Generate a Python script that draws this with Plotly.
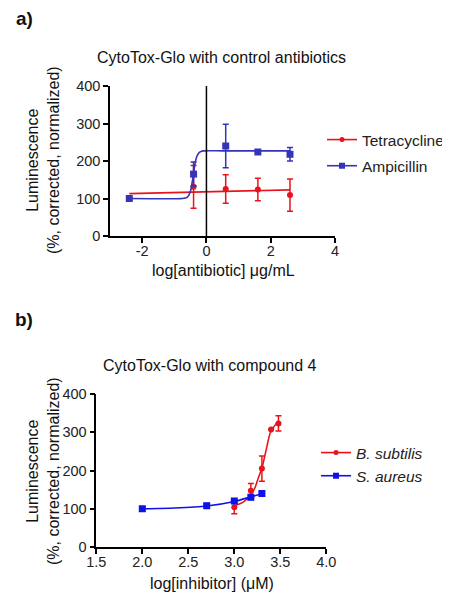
import plotly.graph_objects as go

# The page adds an 8px body margin, so the figure is sized to fill the rest of the window.
OFF = 8
W, H = 450 - OFF, 600 - OFF
FONT = "Liberation Sans, Arial, sans-serif"

def fx(px):  # page x pixel -> paper fraction
    return (px - OFF) / W

def fy(py):  # page y pixel -> paper fraction
    return 1 - (py - OFF) / H

# ---------- Panel a data ----------
a_ticks = [-2, 0, 2, 4]
a_ticktext = ["-2", "0", "2", "4"]

tet_x = [-0.4, 0.6, 1.6, 2.6]
tet_y = [131, 125, 124, 109]
tet_err = [57, 38, 30, 43]
tet_fit_x = [-2.4, 2.6]
tet_fit_y = [113, 123]

amp_x = [-2.4, -0.4, 0.6, 1.6, 2.6]
amp_y = [100, 165, 240, 224, 218]
amp_err = [0, 32, 58, 0, 18]
amp_fit_x = [-2.4, -0.75, -0.6, -0.5, -0.45, -0.4, -0.35, -0.3, -0.22, -0.1, 0.5, 2.6]
amp_fit_y = [100, 100, 103, 118, 140, 168, 195, 212, 223, 227, 227, 227]

# ---------- Panel b data ----------
b_ticks = [1.5, 2.0, 2.5, 3.0, 3.5, 4.0]

bs_x = [3.0, 3.18, 3.3, 3.4, 3.48]
bs_y = [104, 147, 205, 307, 323]
bs_err = [17, 19, 33, 0, 20]
bs_fit_x = [3.0, 3.1, 3.18, 3.225, 3.26, 3.3, 3.35, 3.39, 3.44, 3.48]
bs_fit_y = [107, 118, 136, 155, 180, 206, 258, 298, 318, 328]

sa_x = [2.0, 2.7, 3.0, 3.18, 3.3]
sa_y = [100, 108, 120, 130, 140]
sa_err = [5, 6, 4, 6, 3]
sa_fit_x = [2.0, 2.35, 2.7, 3.0, 3.18, 3.3]
sa_fit_y = [100, 102, 107, 119, 131, 139]

y_ticks = [0, 100, 200, 300, 400]

RED = "#E8141C"
BLUE_A = "#3434B8"
BLUE_B = "#1010E8"

fig = go.Figure()

def add_series(name, x, y, err, fitx, fity, color, symbol, msize, xa, ya, legend):
    fig.add_trace(go.Scatter(x=fitx, y=fity, mode="lines",
                             line=dict(color=color, width=1.6, shape="spline", smoothing=0.6),
                             showlegend=False, xaxis=xa, yaxis=ya, hoverinfo="skip"))
    fig.add_trace(go.Scatter(x=x, y=y, mode="markers",
                             marker=dict(color=color, symbol=symbol, size=msize),
                             error_y=dict(type="data", array=err, visible=True, color=color, thickness=1.5, width=3),
                             showlegend=False, xaxis=xa, yaxis=ya))
    fig.add_trace(go.Scatter(x=[None], y=[None], mode="lines+markers", name=name,
                             line=dict(color=color, width=1.6),
                             marker=dict(color=color, symbol=symbol, size=msize - 1),
                             xaxis=xa, yaxis=ya, legend=legend, legendgroup=name))

add_series("Tetracycline", tet_x, tet_y, tet_err, tet_fit_x, tet_fit_y, RED, "circle", 6, "x", "y", "legend")
add_series("Ampicillin", amp_x, amp_y, amp_err, amp_fit_x, amp_fit_y, BLUE_A, "square", 7, "x", "y", "legend")
add_series("<i>B. subtilis</i>", bs_x, bs_y, bs_err, bs_fit_x, bs_fit_y, RED, "circle", 6, "x2", "y2", "legend2")
add_series("<i>S. aureus</i>", sa_x, sa_y, sa_err, sa_fit_x, sa_fit_y, BLUE_B, "square", 7, "x2", "y2", "legend2")

axis_common = dict(showgrid=False, zeroline=False, showline=True, linecolor="black", linewidth=1.5,
                   ticks="outside", ticklen=5, tickwidth=1.5, tickcolor="black", automargin=False,
                   tickfont=dict(family=FONT, size=14.5, color="#222"))

fig.update_layout(
    width=W, height=H,
    margin=dict(l=0, r=0, t=0, b=0, autoexpand=False),
    paper_bgcolor="white", plot_bgcolor="white",
    font=dict(family=FONT, color="#222"),
    xaxis=dict(domain=[fx(110), fx(335)], range=[-3, 4], tickvals=a_ticks, ticktext=a_ticktext,
               ticklabelstandoff=-4, anchor="y", **axis_common),
    yaxis=dict(domain=[fy(236), fy(86)], range=[0, 400], tickvals=y_ticks, anchor="x", **axis_common),
    xaxis2=dict(domain=[fx(96.3), fx(326.3)], range=[1.5, 4.0], tickvals=b_ticks,
                tickformat=".1f", ticklabelstandoff=-4, anchor="y2", **axis_common),
    yaxis2=dict(domain=[fy(547), fy(394)], range=[0, 400], tickvals=y_ticks, anchor="x2", **axis_common),
    legend=dict(x=fx(322), y=fy(123), xanchor="left", yanchor="top", bgcolor="rgba(0,0,0,0)",
                font=dict(family=FONT, size=15.5, color="#222"), tracegroupgap=3, traceorder="grouped"),
    legend2=dict(x=fx(316), y=fy(436), xanchor="left", yanchor="top", bgcolor="rgba(0,0,0,0)",
                 font=dict(family=FONT, size=15.5, color="#222"), tracegroupgap=0, traceorder="grouped"),
)

# vertical line at x = 0 in panel a
fig.add_shape(type="line", xref="x", yref="y", x0=0, x1=0, y0=0, y1=400, line=dict(color="black", width=1.5))

def ann(text, x, y, size, angle=0, bold=False):
    fig.add_annotation(text=f"<b>{text}</b>" if bold else text, x=fx(x), y=fy(y), xref="paper", yref="paper",
                       showarrow=False, textangle=angle, xanchor="center", yanchor="middle",
                       font=dict(family=FONT, size=size, color="#111"))

ann("a)", 24, 19, 19, bold=True)
ann("b)", 24, 320, 19, bold=True)
ann("CytoTox-Glo with control antibiotics", 221, 58, 16)
ann("CytoTox-Glo with compound 4", 210, 365, 16)
ann("Luminescence<br>(%, corrected, normalized)", 43, 160, 16, angle=-90)
ann("Luminescence<br>(%, corrected, normalized)", 43, 471, 16, angle=-90)
ann("log[antibiotic] μg/mL", 223, 270, 16)
ann("log[inhibitor] (μM)", 212, 583, 16)

fig.write_html("out.html")
